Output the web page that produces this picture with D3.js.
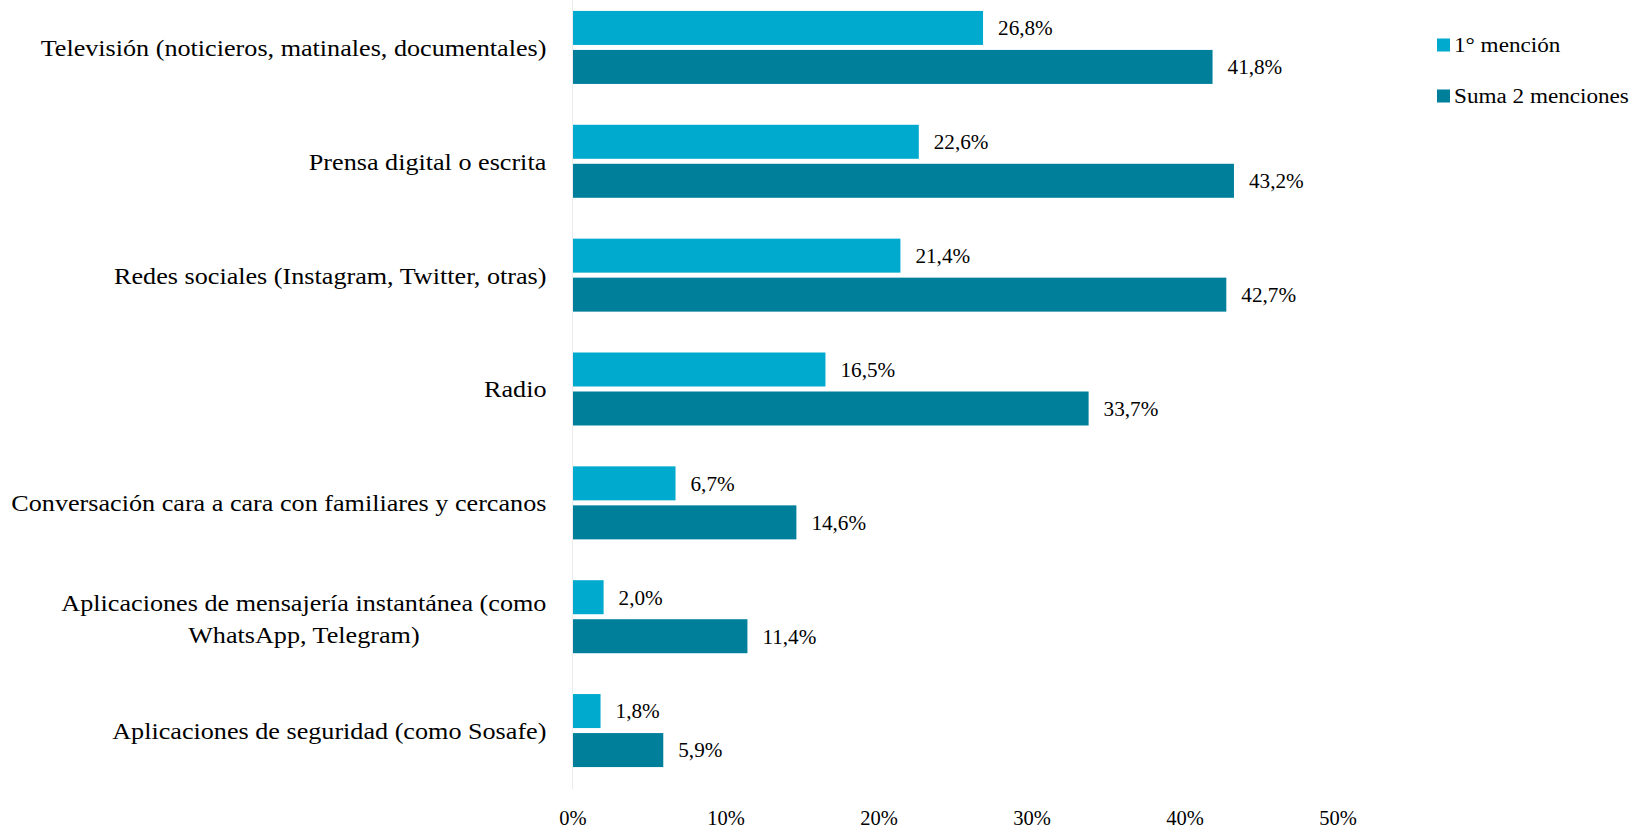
<!DOCTYPE html>
<html>
<head>
<meta charset="utf-8">
<script src="https://cdn.jsdelivr.net/npm/d3@7"></script>
<style>
  html, body { margin: 0; padding: 0; background: #fff; }
  svg { display: block; }
  text { font-family: "Palatino Linotype", "Book Antiqua", Palatino, "Liberation Serif", serif; fill: #000; }
</style>
</head>
<body>
<svg id="chart" width="1632" height="828"></svg>
<script>
const categories = [
  ["Televisión (noticieros, matinales, documentales)"],
  ["Prensa digital o escrita"],
  ["Redes sociales (Instagram, Twitter, otras)"],
  ["Radio"],
  ["Conversación cara a cara con familiares y cercanos"],
  ["Aplicaciones de mensajería instantánea (como", "WhatsApp, Telegram)"],
  ["Aplicaciones de seguridad (como Sosafe)"]
];
const primeraMencion = [26.8, 22.6, 21.4, 16.5, 6.7, 2.0, 1.8];
const sumaMenciones = [41.8, 43.2, 42.7, 33.7, 14.6, 11.4, 5.9];
const seriesNames = ["1° mención", "Suma 2 menciones"];
const tickValues = [0, 10, 20, 30, 40, 50];
const colors = ["#00A9CE", "#007F9B"];

const svg = d3.select("#chart");
const fontSize = 20.5;
const valFontSize = 21.2;
const catFontSize = 24;
const catScaleX = 1.09;
const legScaleX = 1.13;

const x = d3.scaleLinear().domain([0, 50]).range([573, 1338]);
const y = d3.scaleBand().domain(d3.range(categories.length)).range([-9.5, 787.5]).padding(0);
const barH = 34, gap = 5;

// faint axis line
svg.append("line")
  .attr("x1", x(0) - 0.5).attr("x2", x(0) - 0.5)
  .attr("y1", 0).attr("y2", 789)
  .attr("stroke", "#ececec").attr("stroke-width", 1);

const groups = svg.append("g").selectAll("g")
  .data(categories.map((c, i) => ({ c, i, v: [primeraMencion[i], sumaMenciones[i]] })))
  .join("g");

groups.each(function(d) {
  const g = d3.select(this);
  const cy = y(d.i) + y.bandwidth() / 2;
  d.v.forEach((val, k) => {
    const top = k === 0 ? cy - gap / 2 - barH : cy + gap / 2;
    g.append("rect")
      .attr("x", x(0)).attr("y", top)
      .attr("width", x(val) - x(0)).attr("height", barH)
      .attr("fill", colors[k]);
    g.append("text")
      .attr("x", x(val) + 15).attr("y", top + barH / 2)
      .attr("dy", "0.35em")
      .attr("font-size", valFontSize)
      .text(d3.format(".1f")(val).replace(".", ",") + "%");
  });
  // category label
  const lh = 31.5;
  const n = d.c.length;
  const t = g.append("text")
    .attr("font-size", catFontSize)
    .attr("text-anchor", "middle");
  d.c.forEach((line, j) => {
    t.append("tspan").attr("x", 0).attr("y", cy + (n > 1 ? 2 : 0) + (j - (n - 1) / 2) * lh).attr("dy", "0.35em").text(line);
  });
  const w = t.node().getBBox().width;
  t.attr("transform", `translate(${546.5 - w * catScaleX / 2},0) scale(${catScaleX},1)`);
});

// x axis tick labels
svg.append("g").selectAll("text")
  .data(tickValues)
  .join("text")
  .attr("x", d => x(d)).attr("y", 825)
  .attr("text-anchor", "middle")
  .attr("font-size", fontSize)
  .text(d => d + "%");

// legend
const leg = svg.append("g").selectAll("g").data(seriesNames).join("g")
  .attr("transform", (d, i) => `translate(1437, ${38.5 + i * 51})`);
leg.append("rect").attr("width", 13).attr("height", 13).attr("fill", (d, i) => colors[i]);
leg.append("text")
  .attr("transform", `translate(17,6.5) scale(${legScaleX},1)`)
  .attr("dy", "0.35em").attr("font-size", fontSize).text(d => d);
</script>
</body>
</html>
